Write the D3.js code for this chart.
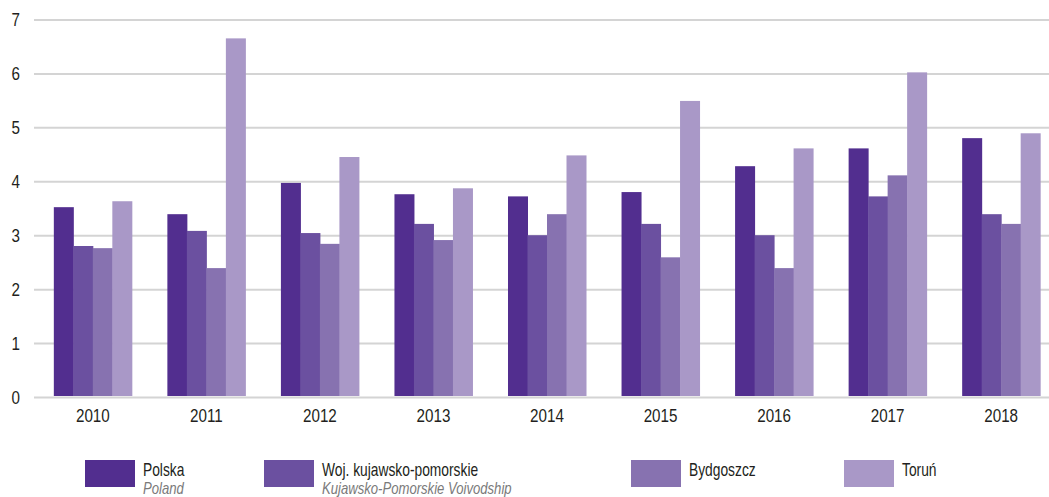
<!DOCTYPE html>
<html>
<head>
<meta charset="utf-8">
<script src="https://cdn.jsdelivr.net/npm/d3@7"></script>
<style>
  html, body { margin: 0; padding: 0; background: #fff; }
  svg { display: block; font-family: "Liberation Sans", Arial, sans-serif; }
</style>
</head>
<body>
<svg id="chart" width="1049" height="497"></svg>
<script>
// Years on the x axis
const years = ["2010", "2011", "2012", "2013", "2014", "2015", "2016", "2017", "2018"];

// Series values per year
const polska    = [3.52, 3.39, 3.97, 3.76, 3.72, 3.80, 4.28, 4.61, 4.80];
const wojKP     = [2.80, 3.08, 3.04, 3.21, 3.00, 3.21, 3.00, 3.72, 3.39];
const bydgoszcz = [2.76, 2.39, 2.84, 2.91, 3.39, 2.59, 2.39, 4.11, 3.21];
const torun     = [3.63, 6.65, 4.45, 3.87, 4.48, 5.49, 4.61, 6.02, 4.89];

// Y axis ticks
const yTicks = [0, 1, 2, 3, 4, 5, 6, 7];

// Legend entries: Polish name and English translation
const seriesNames = ["Polska", "Woj. kujawsko-pomorskie", "Bydgoszcz", "Toruń"];
const seriesNamesEn = ["Poland", "Kujawsko-Pomorskie Voivodship", "", ""];
const colors = ["#522e8f", "#6b50a0", "#8772b0", "#a998c7"];

const seriesValues = [polska, wojKP, bydgoszcz, torun];
const keys = ["s0", "s1", "s2", "s3"];
const table = years.map((y, i) => {
  const row = { year: y };
  keys.forEach((k, j) => row[k] = seriesValues[j][i]);
  return row;
});

// Horizontal squeeze that gives the labels a condensed look
const AXIS_SX = 0.8;
const LEG_SX = 0.767;
const LEG_EN_SX = 0.795;

const svg = d3.select("#chart");

const x0 = d3.scaleBand().domain(years).range([36, 1058]).paddingInner(0.313).paddingOuter(0.157);
const x1 = d3.scaleBand().domain(keys).range([0, x0.bandwidth()]);
const y = d3.scaleLinear().domain([0, 7]).range([397, 19.5]);
const color = d3.scaleOrdinal().domain(keys).range(colors);

// Horizontal gridlines and value labels
const yAxis = d3.axisLeft(y).tickValues(yTicks).tickSize(-(1049 - 34)).tickFormat(d3.format("d"));
const gAxis = svg.append("g").attr("transform", "translate(34,0)").call(yAxis);
gAxis.select(".domain").remove();
gAxis.selectAll(".tick line").attr("stroke", "#d4d4d4").attr("stroke-width", 2);
gAxis.selectAll(".tick text")
  .attr("fill", "#231f20")
  .style("font-size", "19px")
  .attr("x", -14 / AXIS_SX)
  .attr("transform", `scale(${AXIS_SX},1)`);

// Bars
svg.append("g")
  .selectAll("g")
  .data(table)
  .join("g")
  .attr("transform", d => `translate(${x0(d.year)},0)`)
  .selectAll("rect")
  .data(d => keys.map(k => ({ key: k, value: d[k] })))
  .join("rect")
  .attr("x", d => x1(d.key))
  .attr("width", x1.bandwidth() + 0.5)
  .attr("y", d => y(d.value))
  .attr("height", d => y(0) - 1 - y(d.value))
  .attr("fill", d => color(d.key));

// Year labels
const xAxis = d3.axisBottom(x0).tickSize(0).tickPadding(12);
const gX = svg.append("g").attr("transform", "translate(0,397)").call(xAxis);
gX.select(".domain").remove();
gX.selectAll(".tick text")
  .attr("fill", "#231f20")
  .style("font-size", "19px")
  .attr("transform", `scale(${AXIS_SX},1)`);

// Legend
const legendX = [85, 264, 631, 844];
const legend = svg.append("g").selectAll("g")
  .data(seriesNames)
  .join("g")
  .attr("transform", (d, i) => `translate(${legendX[i]},460)`);

legend.append("rect")
  .attr("width", 50).attr("height", 27)
  .attr("fill", (d, i) => colors[i]);

legend.append("text")
  .attr("x", 58 / LEG_SX).attr("y", 15.5)
  .attr("transform", `scale(${LEG_SX},1)`)
  .attr("fill", "#231f20")
  .style("font-size", "18px")
  .text(d => d);

legend.append("text")
  .attr("x", 58 / LEG_EN_SX).attr("y", 34)
  .attr("transform", `scale(${LEG_EN_SX},1)`)
  .attr("fill", "#7a7a7a")
  .style("font-size", "16.5px")
  .style("font-style", "italic")
  .text((d, i) => seriesNamesEn[i]);
</script>
</body>
</html>
